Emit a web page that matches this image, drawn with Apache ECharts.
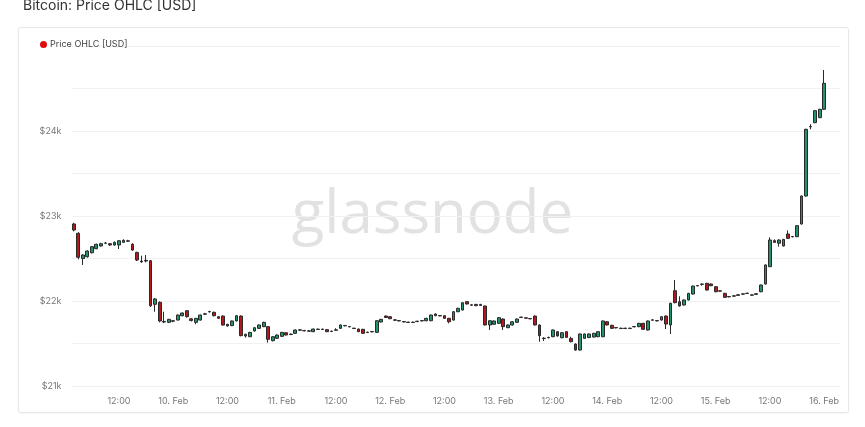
<!DOCTYPE html>
<html>
<head>
<meta charset="utf-8">
<script src="https://cdn.jsdelivr.net/npm/echarts@6/dist/echarts.min.js"></script>
<style>
  html, body { margin:0; padding:0; background:#ffffff; width:865px; height:427px; overflow:hidden; }
  #card { position:absolute; left:18px; top:27px; width:829px; height:384px; border:1px solid #e7e7e7; border-radius:3px; background:#fff; box-shadow:0 1px 2px rgba(0,0,0,0.04); }
  #chart { position:absolute; left:0; top:0; width:865px; height:427px; }
</style>
</head>
<body>
<div id="card"></div>
<div id="chart"></div>
<script>
// ---- data (hourly candles starting 9 Feb 02:00) ----
const startTimeUTC = Date.UTC(2023, 1, 9, 2);
const slotCount = 170; // hourly slots on the axis
const openPrices = [
22906,22796,22500,22521,22568,22615,22647,22680,22674,22659,22659,22690,22708,22667,22572,22470,22470,22474,21961,21985,
21760,21749,21768,21776,21827,21886,21790,21749,21776,21845,21872,21867,21815,21823,21726,21710,21765,21823,21588,21580,
21647,21678,21698,21698,21533,21561,21584,21627,21606,21620,21657,21653,21649,21639,21665,21669,21663,21641,21655,21678,
21712,21700,21680,21670,21667,21629,21637,21631,21753,21823,21815,21778,21770,21758,21751,21747,21758,21766,21768,21768,
21847,21829,21827,21796,21776,21874,21894,21992,21955,21960,21960,21941,21718,21726,21737,21788,21686,21718,21749,21806,
21802,21794,21823,21718,21562,21572,21580,21639,21568,21639,21560,21494,21423,21560,21570,21576,21580,21580,21756,21714,
21688,21680,21680,21676,21696,21698,21737,21659,21774,21770,21776,21823,21718,22121,21992,21953,22012,22082,22178,22196,
22208,22200,22168,22120,22090,22053,22061,22066,22080,22088,22072,22078,22109,22200,22404,22710,22680,22647,22788,22755,
22757,22906,23235,24049,24098,24157,24255
];
const closePrices = [
22835,22514,22541,22588,22639,22667,22674,22682,22659,22690,22709,22714,22704,22600,22482,22460,22478,21944,22024,21765,
21752,21784,21762,21835,21859,21815,21770,21796,21835,21849,21876,21827,21796,21717,21706,21765,21827,21592,21608,21631,
21686,21718,21749,21549,21580,21600,21631,21600,21610,21659,21661,21649,21645,21670,21669,21665,21639,21645,21661,21718,
21708,21696,21676,21639,21620,21633,21641,21768,21784,21806,21792,21774,21766,21754,21747,21751,21762,21770,21796,21835,
21827,21825,21796,21756,21874,21914,21980,21965,21951,21945,21948,21718,21768,21765,21804,21698,21718,21756,21788,21810,
21798,21790,21718,21592,21558,21568,21659,21588,21627,21572,21521,21423,21612,21612,21612,21620,21639,21765,21718,21678,
21684,21676,21676,21680,21700,21737,21667,21765,21778,21766,21815,21729,21973,21980,21941,22012,22090,22176,22182,22200,
22129,22180,22109,22116,22043,22049,22057,22074,22084,22092,22068,22086,22188,22424,22718,22690,22718,22725,22737,22759,
22886,23235,24020,24053,24239,24255,24561
];
const lowPrices = [
22820,22490,22424,22510,22560,22610,22640,22670,22650,22650,22612,22685,22695,22590,22470,22450,22455,21930,21874,21750,
21740,21740,21750,21770,21820,21805,21760,21726,21770,21835,21865,21820,21790,21710,21700,21705,21760,21585,21570,21575,
21640,21672,21692,21510,21525,21555,21578,21594,21598,21614,21650,21643,21640,21634,21660,21660,21634,21636,21650,21672,
21702,21690,21670,21634,21614,21624,21632,21626,21748,21800,21786,21768,21760,21748,21742,21742,21752,21760,21762,21762,
21822,21820,21790,21737,21770,21868,21888,21960,21945,21940,21942,21712,21659,21720,21731,21659,21680,21712,21743,21800,
21792,21785,21712,21521,21530,21560,21574,21582,21562,21566,21515,21415,21418,21554,21564,21570,21574,21574,21712,21672,
21678,21670,21670,21670,21690,21692,21661,21653,21768,21760,21770,21670,21612,21974,21935,21947,22006,22076,22172,22180,
22123,22174,22103,22110,22037,22043,22051,22060,22074,22082,22062,22072,22103,22194,22398,22684,22640,22641,22731,22749,
22751,22900,23229,24020,24092,24151,24249
];
const highPrices = [
22920,22810,22550,22595,22645,22675,22685,22695,22680,22700,22715,22725,22720,22680,22580,22533,22540,22480,22035,21995,
21874,21790,21775,21840,21865,21892,21800,21800,21840,21860,21885,21875,21822,21830,21732,21770,21835,21830,21615,21637,
21692,21725,21755,21705,21586,21606,21637,21633,21618,21665,21668,21660,21655,21676,21675,21675,21668,21652,21680,21724,
21718,21706,21686,21676,21672,21640,21648,21774,21790,21830,21820,21784,21776,21764,21757,21757,21768,21776,21802,21841,
21853,21835,21833,21802,21880,21920,21986,21998,21962,21966,21966,21947,21774,21771,21810,21794,21724,21762,21794,21816,
21808,21800,21829,21724,21575,21580,21665,21645,21633,21645,21580,21500,21618,21618,21618,21626,21645,21771,21762,21720,
21694,21686,21686,21686,21706,21743,21743,21771,21784,21776,21821,21829,21979,22247,22055,22018,22096,22182,22188,22206,
22214,22206,22174,22126,22096,22059,22067,22080,22090,22098,22078,22092,22194,22430,22749,22725,22724,22731,22830,22765,
22892,23241,24026,24080,24245,24261,24718
];
const yTickValues = [21000, 22000, 23000, 24000];

// ---- build ----
const categories = [];
for (let i = 0; i < slotCount; i++) {
  const d = new Date(startTimeUTC + i * 3600000);
  categories.push(d.toISOString());
}
const ohlc = openPrices.map((o, i) => [o, closePrices[i], lowPrices[i], highPrices[i]]);

function hourOf(v) { return new Date(v).getUTCHours(); }

const chart = echarts.init(document.getElementById('chart'), null, { renderer: 'canvas' });
const font = 'Inter, "Noto Sans", sans-serif';
chart.setOption({
  backgroundColor: 'transparent',
  animation: false,
  title: {
    text: 'Bitcoin: Price OHLC [USD]',
    left: 18, top: -6,
    textStyle: { fontFamily: font, fontSize: 14, fontWeight: 'normal', color: '#333' }
  },
  legend: {
    left: 35, top: 35,
    icon: 'circle', itemWidth: 7, itemHeight: 7, itemGap: 4,
    textStyle: { fontFamily: font, fontSize: 9, color: '#444', padding: [0, 0, 0, -2] },
    data: [{ name: 'Price OHLC [USD]', itemStyle: { color: '#e00b0b', borderWidth: 0 } }]
  },
  graphic: [{
    type: 'text', left: 'center', top: 186, z: -10, silent: true,
    style: { text: 'glassnode', fontFamily: '"Open Sans", "Noto Sans", sans-serif', fontSize: 60, fill: '#e2e2e2' }
  }],
  grid: { left: 71.5, right: 25, top: 46, bottom: 41 },
  xAxis: {
    type: 'category',
    data: categories,
    boundaryGap: true,
    axisLine: { show: false },
    axisTick: { show: false },
    splitLine: { show: false },
    axisLabel: {
      interval: (idx, v) => { const h = hourOf(v); return h === 0 || h === 12; },
      formatter: (v) => {
        const d = new Date(v);
        return d.getUTCHours() === 12 ? '12:00' : d.getUTCDate() + '. Feb';
      },
      margin: 11,
      fontFamily: font, fontSize: 9, color: '#777'
    }
  },
  yAxis: {
    type: 'value',
    min: 21000, max: 25000, interval: 500,
    axisLine: { show: false },
    axisTick: { show: false },
    splitLine: { lineStyle: { color: '#f1f1f1', width: 1 } },
    axisLabel: {
      margin: 10,
      fontFamily: font, fontSize: 9, color: '#777',
      formatter: (v) => yTickValues.includes(v) ? '$' + (v / 1000) + 'k' : ''
    }
  },
  series: [{
    name: 'Price OHLC [USD]',
    type: 'candlestick',
    data: ohlc,
    barWidth: '72%',
    itemStyle: {
      color: '#23946a', color0: '#b2191d',
      borderColor: '#2a2a2a', borderColor0: '#2a2a2a', borderWidth: 1
    }
  }]
});
</script>
</body>
</html>
